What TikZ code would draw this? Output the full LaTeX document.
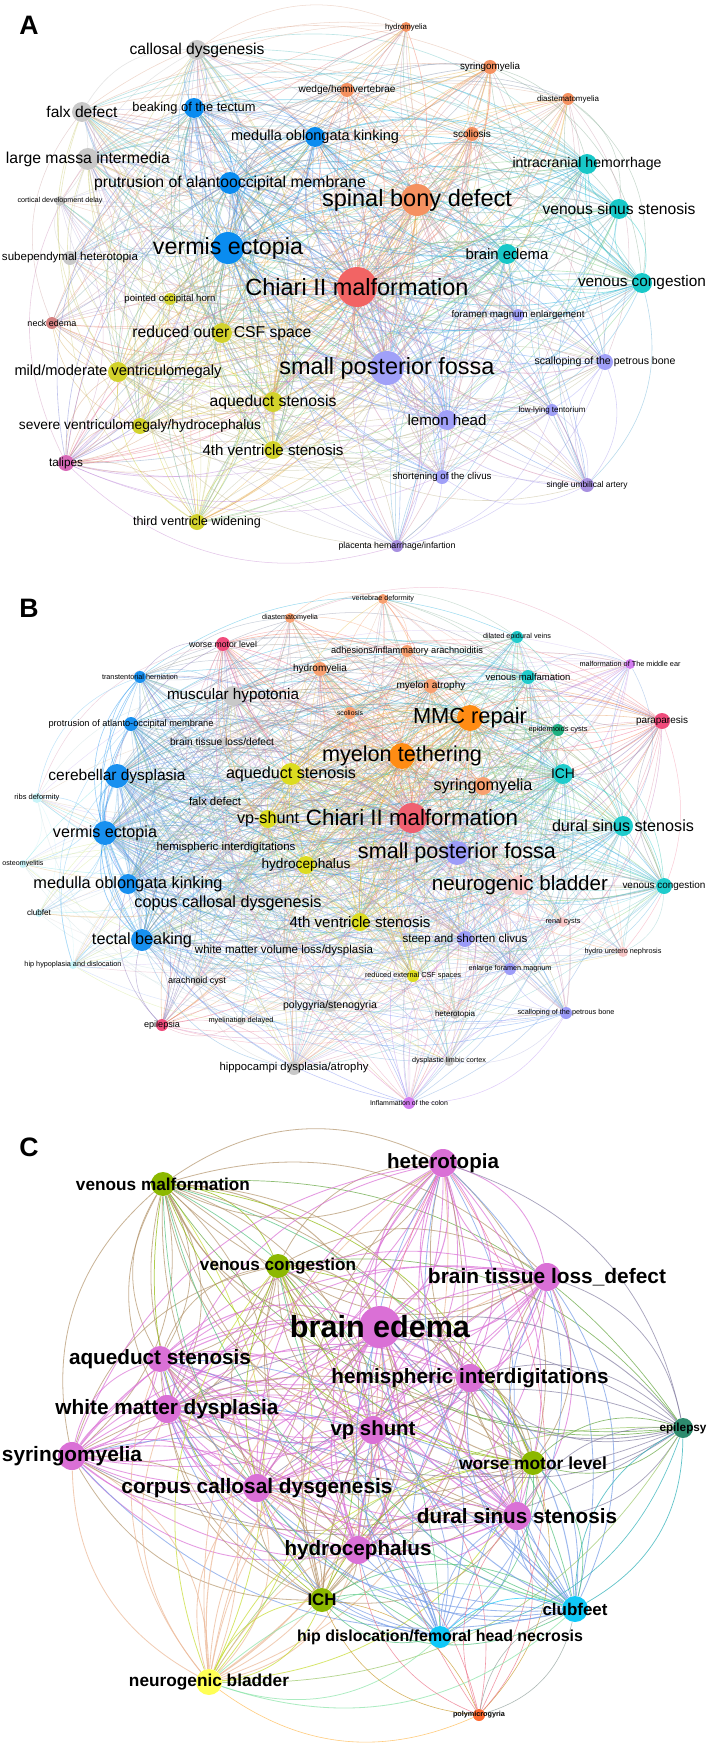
\documentclass[tikz,border=0pt]{standalone}
\usepackage{fontspec}
\setmainfont{Liberation Sans}
\usepackage{graphicx}
\pgfdeclarelayer{edges}\pgfdeclarelayer{labels}
\pgfsetlayers{edges,main,labels}
\newlength\labw
\newcommand\labfont{\normalfont}
% name, x, y, radius(px), colour, label width(px), text
\newcommand\nd[7]{%
  \node[dot, fill=#5, minimum size={#4*1.5pt}] (#1) at (#2,#3) {};
  \begin{pgfonlayer}{labels}
    \node[lab] (#1-l) at (#2,#3) {\setlength\labw{0.75pt}\labw=#6\labw\resizebox{\labw}{!}{\labfont #7}};
  \end{pgfonlayer}}
\newcommand\edgesfor[3]{%
  \foreach \a/\ra/\ca [count=\i] in #1 {
    \foreach \b/\rb/\cb [count=\j] in #1 {
      \ifnum\i=\j\else
        \pgfmathsetmacro\pp{\ra*\rb/#2}
        \pgfmathsetmacro\uu{rnd}
        \ifdim\uu pt<\pp pt
          \pgfmathsetmacro\ww{0.3+\ra*\rb*0.0018}
          \draw[#3,line width=\ww pt,draw=\ca!50!\cb] (\a) to[bend left=30] (\b);
        \fi
      \fi
    }
  }}
% panel A colours
\definecolor{gA}{HTML}{C8C8C8}\definecolor{bA}{HTML}{0A8CF0}
\definecolor{oA}{HTML}{F59160}\definecolor{rA}{HTML}{F26464}
\definecolor{tA}{HTML}{18C8C8}\definecolor{lA}{HTML}{A0A0F8}
\definecolor{yA}{HTML}{D2D22C}\definecolor{nA}{HTML}{D48080}
\definecolor{pA}{HTML}{D868B8}\definecolor{uA}{HTML}{A890E0}
% panel B colours
\definecolor{gB}{HTML}{C8C8C8}\definecolor{bB}{HTML}{1890F0}
\definecolor{oB}{HTML}{FF8C14}\definecolor{ooB}{HTML}{F8A070}
\definecolor{rB}{HTML}{F06070}\definecolor{yB}{HTML}{DCDC20}
\definecolor{tB}{HTML}{20CCCC}\definecolor{tgB}{HTML}{20B080}
\definecolor{prB}{HTML}{F04C7C}\definecolor{lB}{HTML}{9C9CF8}
\definecolor{cB}{HTML}{C8F4F8}\definecolor{lpB}{HTML}{F8C8C8}
\definecolor{vB}{HTML}{D27CF0}
% panel C colours
\definecolor{orC}{HTML}{DA70D6}\definecolor{olC}{HTML}{8CB800}
\definecolor{dgC}{HTML}{2E8B6E}\definecolor{cyC}{HTML}{10C8F8}
\definecolor{ywC}{HTML}{FFFF55}\definecolor{poC}{HTML}{FF6A30}
\tikzset{
  dot/.style={circle,inner sep=0pt,draw=none},
  lab/.style={inner sep=0pt,text=black},
  panelletter/.style={inner sep=0pt,font=\bfseries\fontsize{20}{20}\selectfont},
  edgeAB/.style={draw opacity=0.45},
  edgeC/.style={draw opacity=0.7}
}
\def\listA{aCD/10/gA, aFD/10/gA, aBT/10/bA, aMOK/10/bA, aLMI/11/gA, aPAM/11/bA, aCDD/5/gA, aVE/16/bA, aSH/7/gA, aHM/5/oA, aSY/7/oA, aWH/7/oA, aDM/6/oA, aSC/7/oA, aIH/10/tA, aSBD/16/oA, aVSS/10/tA, aBE/10/tA, aVC/10/tA, aCH/20/rA, aPOH/6/yA, aNE/6/nA, aROC/10/yA, aSPF/17/lA, aMMV/10/yA, aAS/10/yA, aSVH/8/yA, a4VS/9/yA, aTA/8/pA, aTVW/8/yA, aFME/6/lA, aSPB/8/lA, aLH/10/lA, aLLT/6/lA, aSOC/7/lA, aSUA/7/uA, aPH/6/uA}
\def\listB{bDM/5/ooB, bVD/5/ooB, bWML/7/prB, bAIA/6/ooB, bHM/7/ooB, bTH/6/bB, bMH/10/gB, bMA/7/ooB, bVM/7/tB, bDEV/6/tB, bMME/5/vB, bSC/6/ooB, bPAM/7/bB, bBTL/5/gB, bMMC/13/oB, bEC/6/tgB, bPP/8/prB, bMT/13/oB, bCBD/12/bB, bAS/11/yB, bSY/9/ooB, bICH/10/tB, bRD/5/cB, bFD/5/gB, bVP/9/yB, bCH/15/rB, bDSS/10/tB, bVE/12/bB, bHI/5/gB, bSPF/12/lB, bOM/4/cB, bHY/9/yB, bMOK/10/bB, bCCD/6/gB, bCF/4/cB, b4VS/9/yB, bNB/10/lpB, bVC/8/tB, bTB/11/bB, bSSC/8/lB, bRC/5/lpB, bWMV/6/gB, bHUN/5/lpB, bHH/4/cB, bEFM/6/lB, bREC/6/yB, bAC/5/gB, bPS/6/gB, bHT/5/gB, bSPB/6/lB, bEP/6/prB, bMD/4/gB, bHDA/7/gB, bDLC/5/gB, bIC/6/vB}
\def\listC{cVM/12/olC, cVC/12/olC, cHT/14/orC, cBTL/14/orC, cBE/21/orC, cAS/13/orC, cHI/14/orC, cWMD/14/orC, cVP/14/orC, cEP/10/dgC, cSY/14/orC, cWML/12/olC, cCCD/14/orC, cDSS/14/orC, cHY/14/orC, cICH/12/olC, cCF/13/cyC, cHD/11/cyC, cNB/13/ywC, cPM/6/poC}
\begin{document}
\begin{tikzpicture}[x=0.75pt,y=-0.75pt]
\useasboundingbox (0,0) rectangle (709,1748);
\begin{pgfonlayer}{edges}
\fill[white] (0,0) rectangle (709,1748);
\end{pgfonlayer}
% ---------------- Panel A ----------------
\node[panelletter] (labA) at (29,25) {A};
\nd{aCD}{197}{50}{10}{gA}{135}{callosal dysgenesis}
\nd{aFD}{82}{112}{10}{gA}{71}{falx defect}
\nd{aBT}{194}{108}{10}{bA}{123}{beaking of the tectum}
\nd{aMOK}{315}{137}{10}{bA}{168}{medulla oblongata kinking}
\nd{aLMI}{88}{159}{11}{gA}{164}{large massa intermedia}
\nd{aPAM}{230}{183}{11}{bA}{272}{prutrusion of alantooccipital membrane}
\nd{aCDD}{60}{201}{5}{gA}{85}{cortical development delay}
\nd{aVE}{228}{248}{16}{bA}{150}{vermis ectopia}
\nd{aSH}{70}{258}{7}{gA}{136}{subependymal heterotopia}
\nd{aHM}{406}{27}{5}{oA}{42}{hydromyelia}
\nd{aSY}{490}{67}{7}{oA}{60}{syringomyelia}
\nd{aWH}{347}{90}{7}{oA}{97}{wedge/hemivertebrae}
\nd{aDM}{568}{99}{6}{oA}{62}{diastematomyelia}
\nd{aSC}{472}{134}{7}{oA}{38}{scoliosis}
\nd{aIH}{587}{164}{10}{tA}{149}{intracranial hemorrhage}
\nd{aSBD}{417}{200}{16}{oA}{190}{spinal bony defect}
\nd{aVSS}{619}{209}{10}{tA}{153}{venous sinus stenosis}
\nd{aBE}{507}{254}{10}{tA}{83}{brain edema}
\nd{aVC}{642}{283}{10}{tA}{128}{venous congestion}
\nd{aCH}{357}{287}{20}{rA}{223}{Chiari II malformation}
\nd{aPOH}{170}{299}{6}{yA}{91}{pointed occipital horn}
\nd{aNE}{52}{323}{6}{nA}{49}{neck edema}
\nd{aROC}{222}{333}{10}{yA}{179}{reduced outer CSF space}
\nd{aSPF}{387}{368}{17}{lA}{215}{small posterior fossa}
\nd{aMMV}{118}{372}{10}{yA}{207}{mild/moderate ventriculomegaly}
\nd{aAS}{273}{402}{10}{yA}{127}{aqueduct stenosis}
\nd{aSVH}{140}{426}{8}{yA}{242}{severe ventriculomegaly/hydrocephalus}
\nd{a4VS}{273}{450}{9}{yA}{141}{4th ventricle stenosis}
\nd{aTA}{66}{463}{8}{pA}{34}{talipes}
\nd{aTVW}{197}{522}{8}{yA}{128}{third ventricle widening}
\nd{aFME}{518}{315}{6}{lA}{133}{foramen magnum enlargement}
\nd{aSPB}{605}{362}{8}{lA}{141}{scalloping of the petrous bone}
\nd{aLH}{447}{420}{10}{lA}{79}{lemon head}
\nd{aLLT}{552}{410}{6}{lA}{67}{low-lying tentorium}
\nd{aSOC}{442}{477}{7}{lA}{99}{shortening of the clivus}
\nd{aSUA}{587}{485}{7}{uA}{81}{single umbilical artery}
\nd{aPH}{397}{546}{6}{uA}{117}{placenta hemarrhage/infartion}
% ---------------- Panel B ----------------
\node[panelletter] (labB) at (29,608) {B};
\nd{bDM}{290}{618}{5}{ooB}{56}{diastematomyelia}
\nd{bVD}{383}{599}{5}{ooB}{62}{vertebrae deformity}
\nd{bWML}{223}{644}{7}{prB}{68}{worse motor level}
\nd{bAIA}{407}{651}{6}{ooB}{152}{adhesions/inflammatory arachnoiditis}
\nd{bHM}{320}{669}{7}{ooB}{54}{hydromyelia}
\nd{bTH}{140}{677}{6}{bB}{76}{transtentorial herniation}
\nd{bMH}{233}{696}{10}{gB}{132}{muscular hypotonia}
\nd{bMA}{431}{686}{7}{ooB}{69}{myelon atrophy}
\nd{bVM}{528}{677}{7}{tB}{85}{venous malfamation}
\nd{bDEV}{517}{637}{6}{tB}{68}{dilated epidural veins}
\nd{bMME}{630}{664}{5}{vB}{101}{malformation of The middle ear}
\nd{bSC}{350}{713}{6}{ooB}{26}{scoliosis}
\nd{bPAM}{131}{724}{7}{bB}{165}{protrusion of atlanto-occipital membrane}
\nd{bBTL}{222}{742}{4}{gB}{104}{brain tissue loss/defect}
\nd{bMMC}{470}{718}{13}{oB}{114}{MMC repair}
\nd{bEC}{558}{730}{6}{tgB}{59}{epidermoids cysts}
\nd{bPP}{662}{721}{8}{prB}{52}{paraparesis}
\nd{bMT}{402}{756}{13}{oB}{160}{myelon tethering}
\nd{bCBD}{117}{776}{12}{bB}{137}{cerebellar dysplasia}
\nd{bAS}{291}{774}{11}{yB}{130}{aqueduct stenosis}
\nd{bSY}{483}{786}{9}{ooB}{99}{syringomyelia}
\nd{bICH}{563}{774}{10}{tB}{24}{ICH}
\nd{bRD}{37}{798}{5}{cB}{45}{ribs deformity}
\nd{bFD}{215}{801}{4}{gB}{52}{falx defect}
\nd{bVP}{268}{819}{9}{yB}{62}{vp-shunt}
\nd{bCH}{412}{818}{15}{rB}{212}{Chiari II malformation}
\nd{bDSS}{623}{826}{10}{tB}{142}{dural sinus stenosis}
\nd{bVE}{105}{833}{12}{bB}{104}{vermis ectopia}
\nd{bHI}{226}{848}{4}{gB}{139}{hemispheric interdigitations}
\nd{bSPF}{457}{853}{12}{lB}{198}{small posterior fossa}
\nd{bOM}{23}{864}{4}{cB}{41}{osteomyelitis}
\nd{bHY}{306}{865}{9}{yB}{89}{hydrocephalus}
\nd{bMOK}{128}{884}{10}{bB}{189}{medulla oblongata kinking}
\nd{bCCD}{228}{903}{4}{gB}{187}{copus callosal dysgenesis}
\nd{bCF}{39}{913}{4}{cB}{24}{clubfet}
\nd{b4VS}{360}{922}{9}{yB}{141}{4th ventricle stenosis}
\nd{bNB}{520}{885}{10}{lpB}{176}{neurogenic bladder}
\nd{bVC}{664}{886}{8}{tB}{83}{venous congestion}
\nd{bTB}{142}{940}{11}{bB}{100}{tectal beaking}
\nd{bSSC}{465}{939}{8}{lB}{125}{steep and shorten clivus}
\nd{bRC}{563}{922}{5}{lpB}{35}{renal cysts}
\nd{bWMV}{284}{951}{4}{gB}{178}{white matter volume loss/dysplasia}
\nd{bHUN}{623}{952}{5}{lpB}{77}{hydro uretero nephrosis}
\nd{bHH}{73}{965}{4}{cB}{97}{hip hypoplasia and dislocation}
\nd{bEFM}{510}{969}{6}{lB}{83}{enlarge foramen magnum}
\nd{bREC}{413}{976}{6}{yB}{96}{reduced external CSF spaces}
\nd{bAC}{197}{981}{5}{gB}{58}{arachnoid cyst}
\nd{bPS}{330}{1006}{6}{gB}{94}{polygyria/stenogyria}
\nd{bHT}{455}{1014}{5}{gB}{40}{heterotopia}
\nd{bSPB}{566}{1013}{6}{lB}{97}{scalloping of the petrous bone}
\nd{bEP}{162}{1025}{6}{prB}{36}{epilepsia}
\nd{bMD}{241}{1021}{4}{gB}{65}{myelination delayed}
\nd{bHDA}{294}{1068}{7}{gB}{149}{hippocampi dysplasia/atrophy}
\nd{bDLC}{449}{1061}{5}{gB}{74}{dysplastic limbic cortex}
\nd{bIC}{409}{1103}{6}{vB}{78}{Inflammation of the colon}
% ---------------- Panel C ----------------
\node[panelletter] (labC) at (29,1147) {C};
\renewcommand\labfont{\bfseries}
\nd{cVM}{163}{1184}{12}{olC}{174}{venous malformation}
\nd{cVC}{278}{1266}{12}{olC}{156}{venous congestion}
\nd{cHT}{443}{1163}{14}{orC}{112}{heterotopia}
\nd{cBTL}{547}{1277}{14}{orC}{238}{brain tissue loss\_defect}
\nd{cBE}{380}{1327}{21}{orC}{180}{brain edema}
\nd{cAS}{160}{1359}{13}{orC}{182}{aqueduct stenosis}
\nd{cHI}{470}{1378}{14}{orC}{277}{hemispheric interdigitations}
\nd{cWMD}{167}{1409}{14}{orC}{223}{white matter dysplasia}
\nd{cVP}{373}{1430}{14}{orC}{85}{vp shunt}
\nd{cEP}{683}{1428}{10}{dgC}{47}{epilepsy}
\nd{cSY}{72}{1456}{14}{orC}{140}{syringomyelia}
\nd{cWML}{533}{1463}{12}{olC}{148}{worse motor level}
\nd{cCCD}{257}{1488}{14}{orC}{271}{corpus callosal dysgenesis}
\nd{cDSS}{517}{1516}{14}{orC}{200}{dural sinus stenosis}
\nd{cHY}{358}{1550}{14}{orC}{147}{hydrocephalus}
\nd{cICH}{322}{1600}{12}{olC}{29}{ICH}
\nd{cCF}{575}{1609}{13}{cyC}{65}{clubfeet}
\nd{cHD}{440}{1637}{11}{cyC}{286}{hip dislocation/femoral head necrosis}
\nd{cNB}{209}{1682}{13}{ywC}{160}{neurogenic bladder}
\nd{cPM}{479}{1715}{6}{poC}{52}{polymicrogyria}
% ---------------- Edges ----------------
\pgfmathsetseed{4711}
\begin{pgfonlayer}{edges}
\edgesfor{\listA}{170}{edgeAB}
\edgesfor{\listB}{160}{edgeAB}
\edgesfor{\listC}{190}{edgeC}
\end{pgfonlayer}
\end{tikzpicture}
\end{document}
